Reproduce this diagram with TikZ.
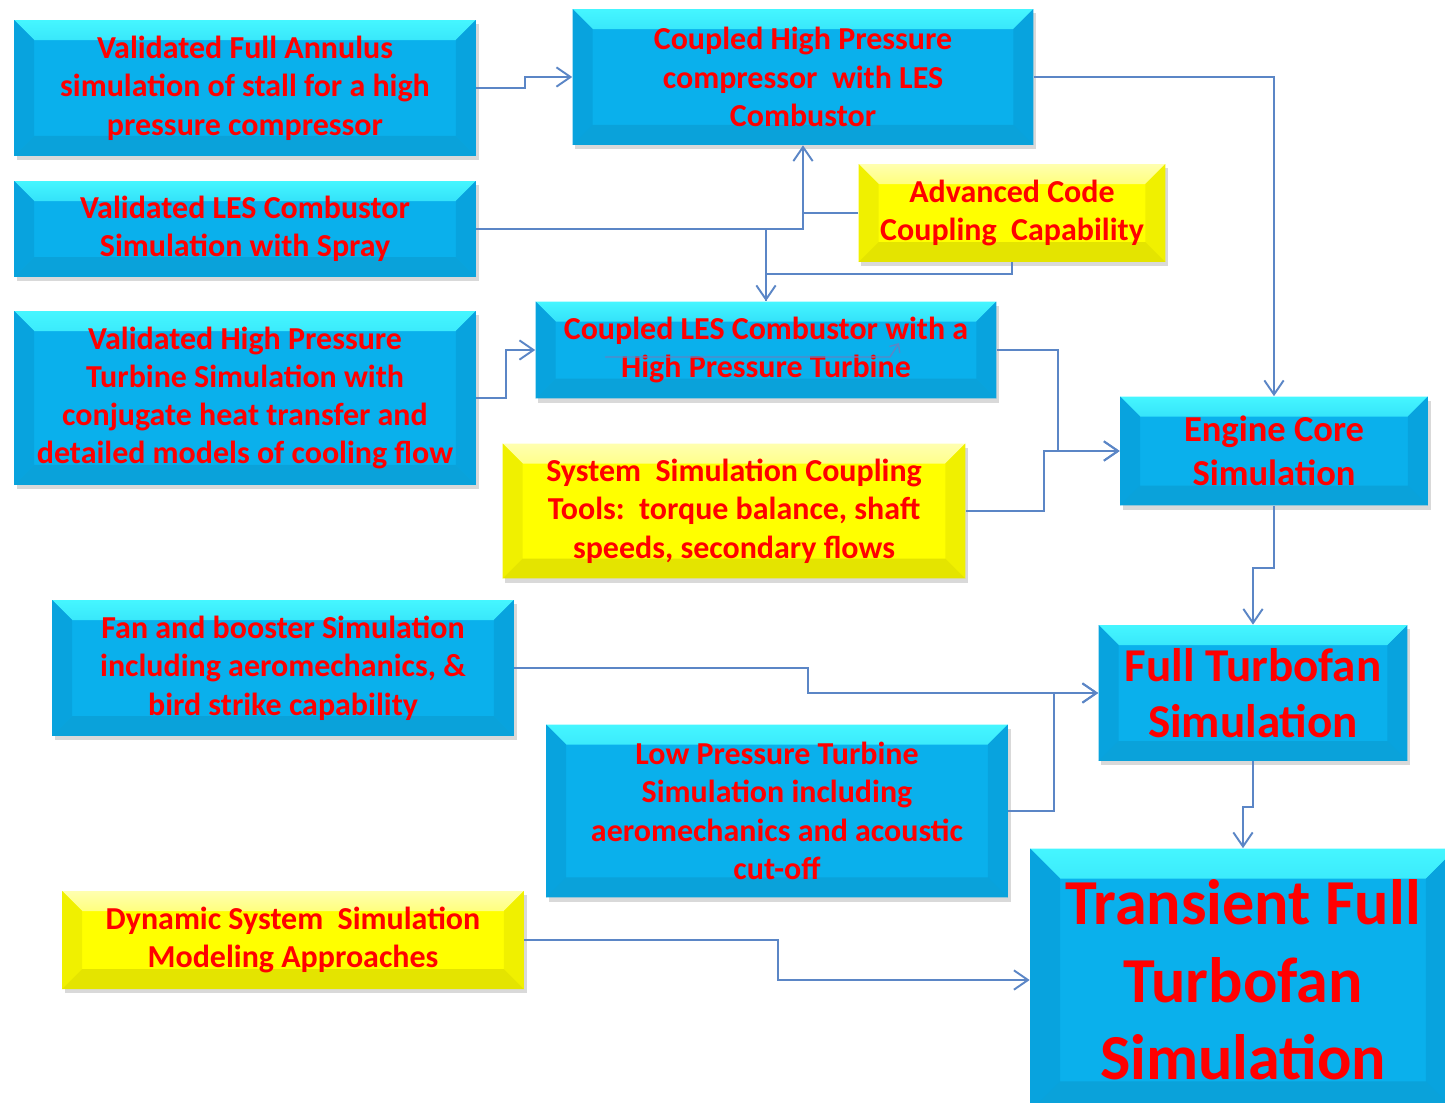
\documentclass[tikz,border=0pt]{standalone}
\usepackage{fontspec}
\setmainfont{Carlito}
\usetikzlibrary{arrows.meta,shadows}

\definecolor{boxblue}{HTML}{0AB0EC}
\definecolor{boxtop}{HTML}{45F6FF}
\definecolor{boxside}{HTML}{08A3DE}
\definecolor{boxlow}{HTML}{0AA2DA}
\definecolor{ylw}{HTML}{FFFF00}
\definecolor{ylwtop}{HTML}{FFFFB0}
\definecolor{ylwside}{HTML}{F0F000}
\definecolor{ylwlow}{HTML}{E4E400}
\definecolor{linkblue}{HTML}{5B86C6}

\begin{document}
\begin{tikzpicture}[x=0.02cm, y=-0.02cm,
  bevel/.style n args={5}{path picture={
    \shade[top color=#2, bottom color=#3, middle color=#3!70!#2] (path picture bounding box.north west) -- (path picture bounding box.north east)
      -- ([shift={(-#1,-#1)}]path picture bounding box.north east) -- ([shift={(#1,-#1)}]path picture bounding box.north west) -- cycle;
    \fill[#4] (path picture bounding box.north west) -- (path picture bounding box.south west)
      -- ([shift={(#1,#1)}]path picture bounding box.south west) -- ([shift={(#1,-#1)}]path picture bounding box.north west) -- cycle;
    \fill[#4] (path picture bounding box.north east) -- (path picture bounding box.south east)
      -- ([shift={(-#1,#1)}]path picture bounding box.south east) -- ([shift={(-#1,-#1)}]path picture bounding box.north east) -- cycle;
    \fill[#5] (path picture bounding box.south west) -- (path picture bounding box.south east)
      -- ([shift={(-#1,#1)}]path picture bounding box.south east) -- ([shift={(#1,#1)}]path picture bounding box.south west) -- cycle;
  }},
  box/.style 2 args={minimum width=#1, minimum height=#2, inner sep=0pt, align=center, text=red,
                     font=\bfseries\fontsize{18.2}{21.8}\selectfont,
                     drop shadow={shadow xshift=1.5pt, shadow yshift=-2.5pt, opacity=.3}},
  blue/.style={fill=boxblue, bevel={#1}{boxtop}{boxblue}{boxside}{boxlow}},
  blue/.default=0.4cm,
  yellow/.style={fill=ylw, bevel={0.4cm}{ylwtop}{ylw}{ylwside}{ylwlow}},
  lnk/.style={linkblue, line width=1.1pt},
  arr/.style={lnk, -{Straight Barb[length=8pt,width=11pt]}},
]
\clip (0,0) rectangle (1445,1103);

%% Left column: validated component simulations
\node[box={9.24cm}{2.72cm}, blue]   (annulus) at (245,88)  {Validated Full Annulus\\simulation of stall for a high\\pressure compressor};
\node[box={9.24cm}{1.92cm}, blue]   (spray)   at (245,229) {Validated LES Combustor\\Simulation with Spray};
\node[box={9.24cm}{3.48cm}, blue]   (turb)    at (245,398) {Validated High Pressure\\Turbine Simulation with\\conjugate heat transfer and\\detailed models of cooling flow};
\node[box={9.24cm}{2.72cm}, blue]   (fan)     at (283,668) {Fan and booster Simulation\\including aeromechanics, \&\\bird strike capability};
\node[box={9.24cm}{1.96cm}, yellow] (dyn)     at (293,940) {Dynamic System\ \ Simulation\\Modeling Approaches};

%% Middle column: coupled simulations and tools
\node[box={9.22cm}{2.72cm}, blue]   (hpc)     at (803,77)  {Coupled High Pressure\\compressor\ \ with LES\\Combustor};
\node[box={6.14cm}{1.96cm}, yellow] (code)    at (1012,213) {Advanced Code\\Coupling\ \ Capability};
\node[box={9.22cm}{1.94cm}, blue]   (comb)    at (766,350) {Coupled LES Combustor with a\\High Pressure Turbine};
\node[box={9.26cm}{2.70cm}, yellow] (sys)     at (734,511) {System\ \ Simulation Coupling\\Tools:\ \ torque balance, shaft\\speeds, secondary flows};
\node[box={9.24cm}{3.46cm}, blue]   (lpt)     at (777,811) {Low Pressure Turbine\\Simulation including\\aeromechanics and acoustic\\cut-off};

%% Right column: engine level
\node[box={6.16cm}{2.18cm}, blue, font=\bfseries\fontsize{20.8}{25}\selectfont]   (core) at (1274,451) {Engine Core\\Simulation};
\node[box={6.18cm}{2.72cm}, blue, font=\bfseries\fontsize{26.8}{32}\selectfont]   (full) at (1253,693) {Full Turbofan\\Simulation};
\node[box={8.52cm}{5.26cm}, blue=0.6cm, font=\bfseries\fontsize{36.5}{44}\selectfont] (trans) at (1243,980) {Transient Full\\Turbofan\\Simulation};

%% Connectors
\draw[arr] (annulus.east) -- ++(49,0) |- (hpc.west);
\draw[arr] (hpc.east) -| (core.north);
\draw[arr] (spray.east) -| (hpc.south);
\draw[arr] (spray.east -| comb.north) -- (comb.north);
\draw[lnk] (code.west) -- (code.west -| hpc.south);
\draw[lnk] (code.south) -- ++(0,12) -| (comb.north);
\draw[arr] (turb.east) -- ++(30,0) |- (comb.west);
\draw[arr] (comb.east) -- ++(61,0) |- (core.west);
\draw[arr] (sys.east) -- ++(78,0) |- (core.west);
\draw[arr] (core.south) -- ++(0,62) -| (full.north);
\draw[arr] (fan.east) -- ++(294,0) |- (full.west);
\draw[arr] (lpt.east) -- ++(46,0) |- (full.west);
\draw[arr] (full.south) -- ++(0,46) -| (trans.north);
\draw[arr] (dyn.east) -- ++(254,0) |- (trans.west);

%% stray line across the combustor box
\coordinate (s1) at (605,357);
\coordinate (s2) at (899,343);
\draw[linkblue, line width=0.8pt, -{Straight Barb[length=4pt,width=7pt]}] (s1) -- (890,357) -- (s2);

\end{tikzpicture}
\end{document}
